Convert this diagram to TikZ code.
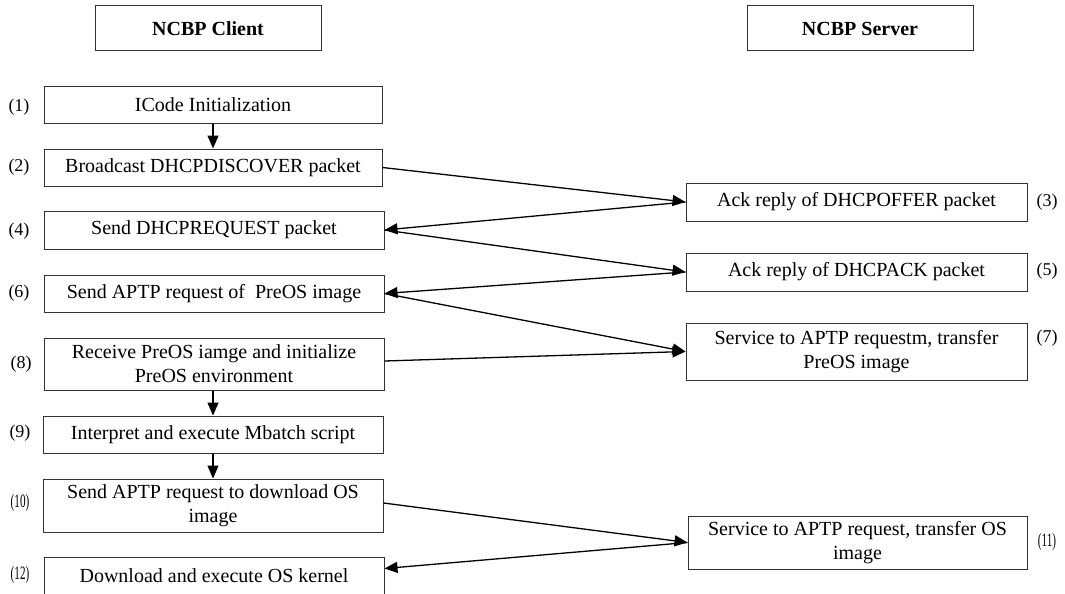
\documentclass[tikz,border=0pt]{standalone}
\usepackage{fontspec}
\setmainfont{Liberation Serif}
\usetikzlibrary{arrows.meta}
\begin{document}
\begin{tikzpicture}[x=1pt,y=-1pt,
  box/.style={draw=black!80,line width=1pt,rectangle,inner sep=0pt,align=center,
    font=\fontsize{20}{24}\selectfont},
  head/.style={box,font=\fontsize{20}{24}\selectfont\bfseries},
  num/.style={inner sep=0pt,font=\fontsize{18}{22}\selectfont},
  flow/.style={line width=1.3pt,-{Triangle[length=13pt,width=11pt]}}]
\useasboundingbox (0,0) rectangle (1065,594);
% headers
\node[head,minimum width=226pt,minimum height=45pt] (hc) at (208,28.5) {NCBP Client};
\node[head,minimum width=226pt,minimum height=45pt] (hs) at (860,28.5) {NCBP Server};
% client boxes
\node[box,minimum width=338pt,minimum height=37pt] (n1) at (213,104.5) {ICode Initialization};
\node[box,minimum width=338pt,minimum height=37pt] (n2) at (213,167.5) {Broadcast DHCPDISCOVER packet};
\node[box,minimum width=340pt,minimum height=38pt] (n4) at (214,230) {Send DHCPREQUEST packet};
\node[box,minimum width=340pt,minimum height=37pt] (n6) at (214,293.5) {Send APTP request of \ PreOS image};
\node[box,minimum width=340pt,minimum height=52pt] (n8) at (214,364) {Receive PreOS iamge and initialize\\PreOS environment};
\node[box,minimum width=340pt,minimum height=37pt] (n9) at (213,434.5) {Interpret and execute Mbatch script};
\node[box,minimum width=340pt,minimum height=53pt] (n10) at (213,505.5) {Send APTP request to download OS\\image};
\node[box,minimum width=340pt,minimum height=37pt] (n12) at (214,575.5) {Download and execute OS kernel};
% server boxes
\node[box,minimum width=341pt,minimum height=38pt] (n3) at (856.5,202) {Ack reply of DHCPOFFER packet};
\node[box,minimum width=341pt,minimum height=38pt] (n5) at (856.5,272) {Ack reply of DHCPACK packet};
\node[box,minimum width=341pt,minimum height=57pt] (n7) at (856.5,351.5) {Service to APTP requestm, transfer\\PreOS image};
\node[box,minimum width=339pt,minimum height=53pt] (n11) at (857.5,542.5) {Service to APTP request, transfer OS\\image};
% step numbers
\node[num] (l1) at (19,107) {(1)};
\node[num] (l2) at (19,167) {(2)};
\node[num] (l4) at (19,231) {(4)};
\node[num] (l6) at (19,293) {(6)};
\node[num] (l8) at (21,364) {(8)};
\node[num] (l9) at (20,433) {(9)};
\node[num] (l10) at (20,503) {\scalebox{0.62}[1.05]{(10)}};
\node[num] (l12) at (20,575) {\scalebox{0.62}[1.05]{(12)}};
\node[num] (l3) at (1047,202) {(3)};
\node[num] (l5) at (1047,271) {(5)};
\node[num] (l7) at (1047,338) {(7)};
\node[num] (l11) at (1047,542) {\scalebox{0.62}[1.05]{(11)}};
% connectors
\draw[flow] (n1.south) -- (n2.north);
\draw[flow] (n8.south -| n9.north) -- (n9.north);
\draw[flow] (n9.south) -- (n10.north);
\draw[flow] (n2.east) -- (n3.west);
\draw[flow] (n3.west) -- (n4.east);
\draw[flow] (n4.east) -- (n5.west);
\draw[flow] (n5.west) -- (n6.east);
\draw[flow] (n6.east) -- (n7.west);
\draw[flow] ([yshift=3pt]n8.east) -- (n7.west);
\draw[flow] ([yshift=2.5pt]n10.east) -- (n11.west);
\draw[flow] (n11.west) -- ([yshift=7pt]n12.east);
\end{tikzpicture}
\end{document}
